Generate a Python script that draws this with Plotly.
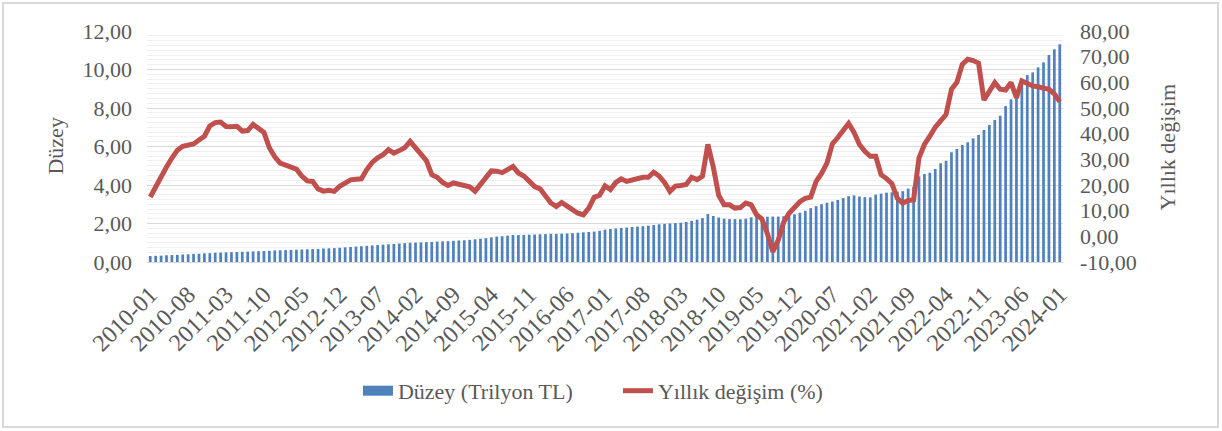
import plotly.graph_objects as go

# monthly categories 2010-01 .. 2024-01
months = [f"{y}-{m:02d}" for y in range(2010, 2025) for m in range(1, 13)][:169]

duzey = [
    0.31, 0.32, 0.33, 0.35, 0.36, 0.37, 0.39, 0.40, 0.42, 0.43, 0.45, 0.46,
    0.48, 0.49, 0.50, 0.51, 0.52, 0.53, 0.54, 0.55, 0.56, 0.57, 0.58, 0.60,
    0.61, 0.62, 0.63, 0.64, 0.65, 0.66, 0.67, 0.68, 0.70, 0.71, 0.72, 0.74,
    0.76, 0.78, 0.80, 0.82, 0.84, 0.86, 0.88, 0.90, 0.92, 0.94, 0.96, 0.98,
    1.00, 1.01, 1.02, 1.03, 1.04, 1.06, 1.07, 1.08, 1.10, 1.12, 1.13, 1.15,
    1.18, 1.21, 1.24, 1.28, 1.32, 1.34, 1.37, 1.40, 1.40, 1.41, 1.42, 1.43,
    1.44, 1.45, 1.46, 1.46, 1.47, 1.48, 1.50, 1.52, 1.54, 1.56, 1.58, 1.62,
    1.68, 1.71, 1.74, 1.77, 1.79, 1.82, 1.84, 1.86, 1.89, 1.92, 1.96, 1.98,
    2.00, 2.02, 2.04, 2.08, 2.14, 2.20, 2.28, 2.49, 2.39, 2.31, 2.25, 2.23,
    2.23, 2.22, 2.25, 2.32, 2.35, 2.35, 2.35, 2.36, 2.36, 2.38, 2.42, 2.48,
    2.56, 2.66, 2.80, 2.90, 3.00, 3.08, 3.14, 3.22, 3.32, 3.42, 3.46, 3.40,
    3.37, 3.36, 3.50, 3.55, 3.60, 3.62, 3.65, 3.68, 3.81, 3.90, 4.45, 4.57,
    4.64, 4.83, 5.13, 5.26, 5.70, 5.87, 6.08, 6.22, 6.42, 6.60, 6.86, 7.12,
    7.38, 7.60, 8.10, 8.45, 8.73, 9.19, 9.71, 9.85, 10.11, 10.37, 10.75, 11.05,
    11.31,
]

yillik = [
    15.3, 19.5, 23.4, 27.0, 30.5, 33.5, 35.1, 35.6, 36.0, 37.5, 39.0, 43.0,
    44.3, 44.5, 42.8, 42.7, 42.9, 41.0, 41.2, 43.6, 42.3, 40.5, 34.5, 31.0,
    28.5, 27.5, 27.0, 26.2, 23.5, 21.6, 21.4, 18.5, 17.6, 17.9, 17.5, 19.5,
    20.8, 22.0, 22.2, 22.4, 26.0, 28.8, 30.6, 31.8, 33.8, 32.4, 33.4, 34.5,
    37.0, 34.8, 32.0, 29.5, 24.0, 23.0, 21.0, 19.8, 20.8, 20.3, 19.6, 19.3,
    17.6, 20.5, 23.2, 25.5, 25.4, 24.8, 26.0, 27.2, 24.7, 23.5, 21.5, 19.4,
    18.5, 16.0, 13.0, 11.6, 13.2, 11.8, 10.4, 9.0, 8.4, 11.0, 15.2, 16.0,
    19.7, 18.2, 21.0, 22.4, 21.4, 22.0, 22.7, 23.0, 23.0, 25.0, 23.5, 21.0,
    17.5, 19.6, 19.8, 20.2, 23.0, 22.1, 23.4, 35.8, 27.0, 16.0, 12.3, 12.3,
    11.0, 11.2, 13.0, 12.3, 8.4, 6.7, 1.0, -6.0, -1.5, 5.5, 9.0, 11.5,
    13.5, 14.8, 15.3, 21.4, 24.5, 28.5, 36.0, 38.5, 41.5, 44.0, 40.5, 35.8,
    33.1, 31.2, 31.2, 24.0, 22.5, 20.5, 14.8, 12.9, 14.0, 14.2, 30.6, 35.8,
    39.0, 42.5, 45.0, 47.5, 57.3, 60.0, 67.0, 69.0, 68.5, 67.5, 53.1, 56.5,
    59.9, 57.3, 57.0, 59.9, 54.0, 60.5, 59.5, 58.6, 58.3, 58.0, 57.3, 55.5,
    52.5,
]

left_ticks = [0, 2, 4, 6, 8, 10, 12]
left_labels = ["0,00", "2,00", "4,00", "6,00", "8,00", "10,00", "12,00"]
right_ticks = [-10, 0, 10, 20, 30, 40, 50, 60, 70, 80]
right_labels = ["-10,00", "0,00", "10,00", "20,00", "30,00", "40,00",
                "50,00", "60,00", "70,00", "80,00"]

font_family = "Liberation Serif, Times New Roman, serif"
grey = "#595959"
blue = "#4F81BD"
red = "#C0504D"

fig = go.Figure()

fig.add_trace(go.Bar(
    x=months,
    y=duzey,
    name="Düzey (Trilyon TL)",
    marker_color=blue,
    marker_line_width=0,
    showlegend=False,
))

# legend entry drawn as a wide block like the original
fig.add_trace(go.Scatter(
    x=[None], y=[None],
    name="Düzey (Trilyon TL)",
    mode="lines",
    line=dict(color=blue, width=12),
))

fig.add_trace(go.Scatter(
    x=months,
    y=yillik,
    name="Yıllık değişim (%)",
    mode="lines",
    line=dict(color=red, width=5),
    yaxis="y2",
))

fig.update_layout(
    width=1222,
    height=431,
    margin=dict(l=147, r=159, t=31, b=169),
    paper_bgcolor="white",
    plot_bgcolor="white",
    font=dict(family=font_family, size=22, color=grey),
    bargap=0.5,
    showlegend=True,
    legend=dict(
        orientation="h",
        x=0.2303,
        xanchor="left",
        y=-0.558,
        yanchor="middle",
        font=dict(size=22, color=grey),
        entrywidth=215,
        entrywidthmode="pixels",
    ),
    xaxis=dict(
        type="category",
        tickvals=months[::7],
        ticktext=months[::7],
        tickangle=-45,
        tickfont=dict(size=24, color=grey),
        showgrid=False,
        showline=True,
        linecolor="#D9D9D9",
        linewidth=1,
        ticks="",
        ticklabelstandoff=8,
        range=[-0.6, 168.6],
    ),
    yaxis=dict(
        range=[0, 12],
        tickvals=left_ticks,
        ticktext=left_labels,
        tickfont=dict(size=22, color=grey),
        showgrid=True,
        gridcolor="#D9D9D9",
        gridwidth=1,
        zeroline=False,
        ticks="",
        ticklabelstandoff=14,
        minor=dict(dtick=0.25, showgrid=True, gridcolor="#F0F0F0", gridwidth=1),
    ),
    yaxis2=dict(
        range=[-10, 80],
        overlaying="y",
        side="right",
        tickvals=right_ticks,
        ticktext=right_labels,
        tickfont=dict(size=22, color=grey),
        showgrid=False,
        zeroline=False,
        ticks="",
        ticklabelstandoff=16,
    ),
    annotations=[
        dict(text="Düzey", xref="paper", yref="paper", x=-0.1004, y=0.5,
             xanchor="center", yanchor="middle",
             textangle=-90, showarrow=False, font=dict(size=22, color=grey)),
        dict(text="Yıllık değişim", xref="paper", yref="paper", x=1.1146, y=0.5,
             xanchor="center", yanchor="middle",
             textangle=-90, showarrow=False, font=dict(size=22, color=grey)),
    ],
    shapes=[
        dict(type="rect", xref="paper", yref="paper",
             x0=-0.1572, x1=1.1692, y0=-0.7143, y1=1.1212,
             line=dict(color="#D9D9D9", width=2), fillcolor="rgba(0,0,0,0)"),
    ],
)

fig.write_html("out.html", config={"displayModeBar": False},
               post_script="document.body.style.margin='0';")
